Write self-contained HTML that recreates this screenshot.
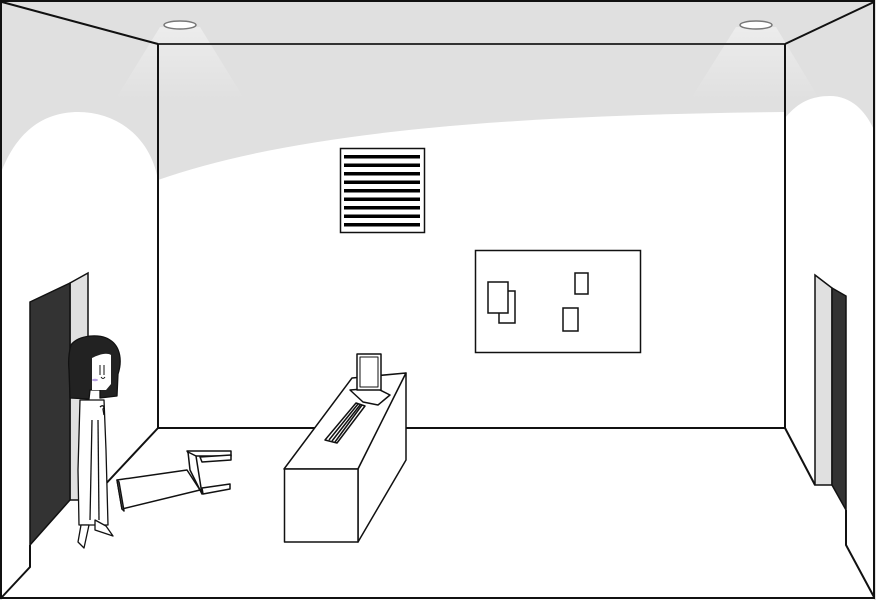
<!DOCTYPE html>
<html><head><meta charset="utf-8"><style>
html,body{margin:0;padding:0;background:#fff}
svg{display:block}
</style></head><body>
<svg width="876" height="600" viewBox="0 0 876 600" xmlns="http://www.w3.org/2000/svg">
<defs>
<linearGradient id="cone" x1="0" y1="0" x2="0" y2="1">
<stop offset="0" stop-color="#fff" stop-opacity="0.4"/>
<stop offset="1" stop-color="#fff" stop-opacity="0"/>
</linearGradient>
</defs>
<rect x="0" y="0" width="876" height="600" fill="#e0e0e0"/>
<polygon points="160,27 200,27 245,100 115,100" fill="url(#cone)"/>
<polygon points="736,27 776,27 820,100 690,100" fill="url(#cone)"/>
<path d="M2,170 C20,125 50,112 78,112 C115,112 150,135 158,180 L158,600 L2,600 Z" fill="#fff"/>
<path d="M158,180 C300,130 520,115 785,112 L785,600 L158,600 Z" fill="#fff"/>
<path d="M785,118 C798,102 812,96 830,96 C852,96 866,112 874,130 L874,600 L785,600 Z" fill="#fff"/>
<g stroke="#111" stroke-width="2" fill="none">
<rect x="1" y="1" width="873" height="597"/>
<line x1="2" y1="2" x2="158" y2="44"/>
<line x1="874" y1="2" x2="785" y2="44"/>
<line x1="158" y1="44" x2="785" y2="44" stroke="#333"/>
<line x1="158" y1="44" x2="158" y2="428"/>
<line x1="785" y1="44" x2="785" y2="428"/>
<line x1="158" y1="428" x2="785" y2="428"/>
<line x1="158" y1="428" x2="100" y2="490"/>
<polyline points="30,545 30,567 2,597"/>
<polyline points="785,428 815,485"/>
<polyline points="846,510 846,545 874,597"/>
</g>
<ellipse cx="180" cy="25" rx="16" ry="4" fill="#fff" stroke="#777" stroke-width="1.5"/>
<ellipse cx="756" cy="25" rx="16" ry="4" fill="#fff" stroke="#777" stroke-width="1.5"/>
<rect x="340.5" y="148.5" width="84" height="84" fill="#fff" stroke="#111" stroke-width="1.5"/>
<g fill="#000">
<rect x="344" y="155" width="76" height="3.5"/>
<rect x="344" y="163.5" width="76" height="3.5"/>
<rect x="344" y="172" width="76" height="3.5"/>
<rect x="344" y="180.5" width="76" height="3.5"/>
<rect x="344" y="189" width="76" height="3.5"/>
<rect x="344" y="197.5" width="76" height="3.5"/>
<rect x="344" y="206" width="76" height="3.5"/>
<rect x="344" y="214.5" width="76" height="3.5"/>
<rect x="344" y="223" width="76" height="3.5"/>
</g>
<g fill="#fff" stroke="#111" stroke-width="1.5">
<rect x="475.5" y="250.5" width="165" height="102"/>
<rect x="499" y="291" width="16" height="32"/>
<rect x="488" y="282" width="20" height="31"/>
<rect x="575" y="273" width="13" height="21"/>
<rect x="563" y="308" width="15" height="23"/>
</g>
<polygon points="70,283 88,273 88,500 70,500" fill="#e0e0e0" stroke="#111" stroke-width="1.5"/>
<polygon points="30,302 70,283 70,500 30,545" fill="#333" stroke="#111" stroke-width="1.5"/>
<polygon points="815,275 832,288 832,485 815,485" fill="#e0e0e0" stroke="#111" stroke-width="1.5"/>
<polygon points="832,288 846,296 846,510 832,485" fill="#333" stroke="#111" stroke-width="1.5"/>
<g fill="#fff" stroke="#111" stroke-width="1.5" stroke-linejoin="round">
<polygon points="187,451 231,451 231,456 190,456"/>
<polygon points="200,457 231,455 231,460 202,462"/>
<polygon points="202,488 230,484 230,489 203,494"/>
<polygon points="117,480 187,470 200,490 122,509"/>
<polygon points="117,480 122,509 124,511 119,482"/>
<polygon points="188,452 196,456 202,494 190,470"/>
</g>
<g fill="#fff" stroke="#111" stroke-width="1.5" stroke-linejoin="round">
<polygon points="284,469 352,378 406,373 358,469"/>
<polygon points="358,469 406,373 406,460 358,542"/>
<rect x="284.5" y="469" width="73.5" height="73"/>
<polygon points="325,440 337,443 365,406 356,403"/>
<line x1="329" y1="440" x2="358" y2="404"/>
<line x1="332" y1="441" x2="360" y2="405"/>
<line x1="335" y1="442" x2="362" y2="405"/>
<polygon points="350,390 363,402 378,405 390,395 376,388"/>
<rect x="357" y="354" width="24" height="36"/>
<rect x="360" y="357" width="18" height="30" stroke-width="1"/>
</g>
<g stroke="#111" stroke-width="1.3" stroke-linejoin="round">
<path d="M80,400 L104,400 L106,450 L108,525 L79,525 L78,470 Z" fill="#fff"/>
<line x1="92" y1="420" x2="90" y2="520" fill="none"/>
<line x1="98" y1="420" x2="99" y2="520" fill="none"/>
<path d="M81,525 L78,542 L84,548 L89,525 Z" fill="#fff"/>
<path d="M95,520 L95,530 L113,536 L106,526 Z" fill="#fff"/>
<path d="M71,345 C78,335 100,333 110,340 C121,347 122,362 118,374 L117,396 L100,398 L100,390 L90,390 L89,399 L70,398 L69,370 C68,360 69,352 71,345 Z" fill="#222"/>
<path d="M92,358 C98,355 106,352 111,355 L111,384 L106,390 L92,390 Z" fill="#fff" stroke="none"/>
<line x1="100" y1="365" x2="100" y2="375" stroke-width="1"/>
<line x1="104" y1="365" x2="104" y2="375" stroke-width="1"/>
<path d="M101,377 q2,3 4,0" fill="none" stroke-width="1"/>
<path d="M100,407 c3,-3 5,0 3,2 l1,6" fill="none"/>
</g>
<ellipse cx="95" cy="380" rx="3" ry="1.2" fill="#b6a0e0"/>
</svg>
</body></html>
